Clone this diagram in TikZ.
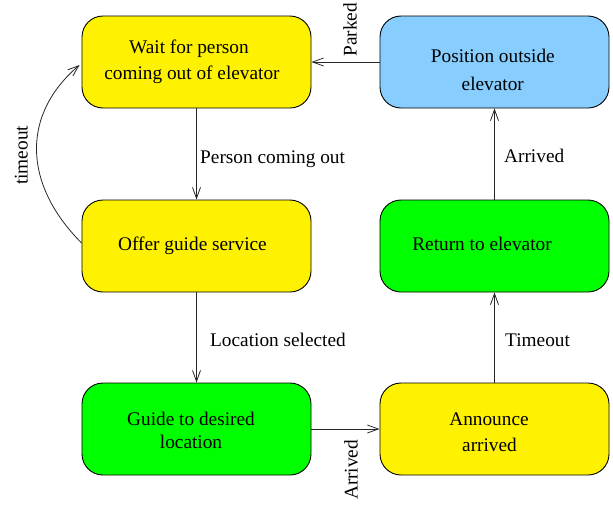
\documentclass[tikz,border=0pt]{standalone}
\usepackage{fontspec}
\setmainfont{Liberation Serif}
\usetikzlibrary{arrows.meta}
\definecolor{ltblue}{HTML}{87CEFF}
\begin{document}
\begin{tikzpicture}[x=1pt,y=-1pt,
  statebox/.style={draw=black, line width=0.9pt, rounded corners=21pt,
    minimum width=229pt, minimum height=92pt, inner sep=0pt},
  txt/.style={font=\fontsize{19.3}{24}\selectfont, inner sep=0pt, anchor=base},
  lbl/.style={font=\fontsize{19.3}{24}\selectfont, inner sep=0pt, anchor=base west},
  arr/.style={line width=0.8pt, draw=black!85, -{Straight Barb[length=11pt,width=8pt]}},
]
\useasboundingbox (0,0) rectangle (613,504);

% state boxes
\node[statebox, fill=yellow] (wait)  at (196.5,62)  {};
\node[statebox, fill=yellow] (offer) at (196.5,246) {};
\node[statebox, fill=green]  (guide) at (196.5,429) {};
\node[statebox, fill=ltblue] (pos)   at (494.5,62)  {};
\node[statebox, fill=green]  (ret)   at (494.5,246) {};
\node[statebox, fill=yellow] (ann)   at (494.5,429) {};

% box texts
\node[txt] (wait1) at (189,53.3) {Wait for person};
\node[txt] (wait2) at (192,79.3) {coming out of elevator};
\node[txt] (offer1) at (192.5,250) {Offer guide service};
\node[txt] (guide1) at (191,425) {Guide to desired};
\node[txt] (guide2) at (191,448.3) {location};
\node[txt] (pos1) at (492.8,62.7) {Position outside};
\node[txt] (pos2) at (492.8,90) {elevator};
\node[txt] (ret1) at (482,250) {Return to elevator};
\node[txt] (ann1) at (489,425) {Announce};
\node[txt] (ann2) at (489.5,451.7) {arrived};

% connectors
\draw[arr] (wait.south) -- (offer.north);
\draw[arr] (offer.south) -- (guide.north);
\draw[arr] (guide.east) -- (ann.west);
\draw[arr] (ann.north) -- (ret.south);
\draw[arr] (ret.north) -- (pos.south);
\draw[arr] (pos.west) -- (wait.east);
\draw[arr] ([yshift=3pt]offer.west) .. controls (22,183) and (22,114) .. ([xshift=-2pt,yshift=-3pt]wait.west);

% connector labels
\node[lbl] (l1) at (200,163.3) {Person coming out};
\node[lbl] (l2) at (210,346.7) {Location selected};
\node[lbl] (l3) at (505,346.7) {Timeout};
\node[lbl] (l4) at (504,162.7) {Arrived};
\node[lbl, rotate=90] (l5) at (356.7,56.7) {Parked};
\node[lbl, rotate=90] (l6) at (357.7,500) {Arrived};
\node[lbl, rotate=90] (l7) at (27.7,185) {timeout};
\end{tikzpicture}
\end{document}
